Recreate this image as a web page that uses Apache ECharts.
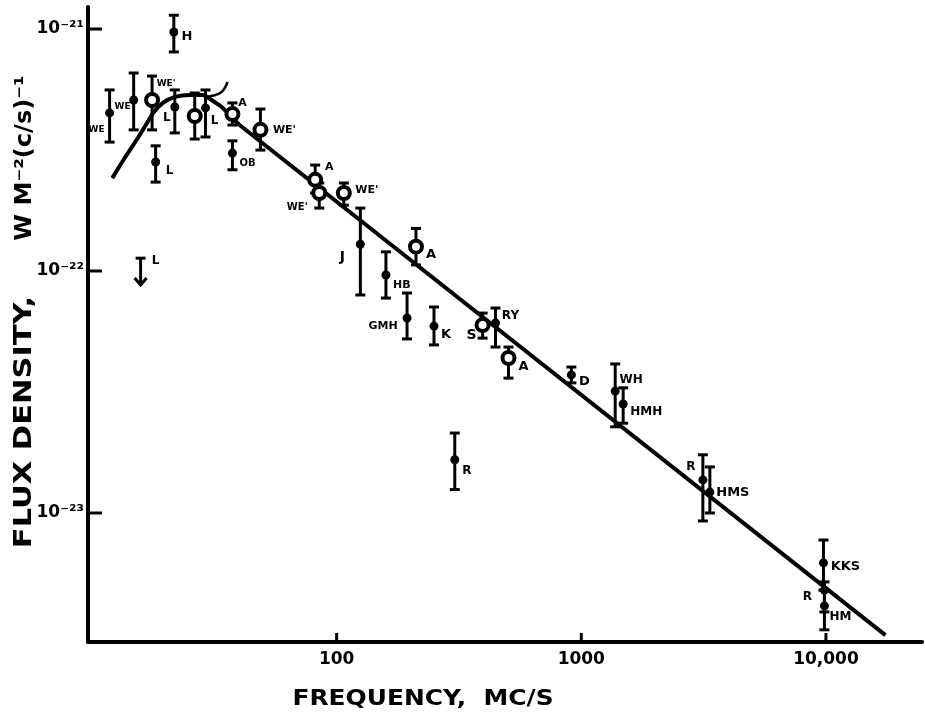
<!DOCTYPE html>
<html><head><meta charset="utf-8">
<script src="https://cdn.jsdelivr.net/npm/echarts@6/dist/echarts.min.js"></script>
<style>html,body{margin:0;padding:0;background:#fff}#c{width:925px;height:715px}</style>
</head><body><div id="c"></div>
<script>
// ---------- data (frequency in Mc/s, flux density in W m^-2 (c/s)^-1) ----------
const FLUX_UNIT = 1e-24;           // plotting unit for the flux axis
const xRange = [9.63, 24700];
const yRange = [2.93e-24, 1.233e-21];
const xTicks = [100, 1000, 10000];
const xTickLabels = ['100', '1000', '10,000'];
const yTicks = [1e-23, 1e-22, 1e-21];
const yTickLabels = ['10⁻²³', '10⁻²²', '10⁻²¹'];

// filled points with error bars
const filledNames = ['WE','WE','L','L','OB','L','H','J','HB','GMH','K','RY','R','D','WH','HMH','R','HMS','KKS','R','HM'];
const filledFreq  = [11.8, 14.8, 21.8, 29.1, 37.5, 18.2, 21.6, 125, 159, 194, 250, 446, 304, 911, 1376, 1483, 3140, 3354, 9770, 9860, 9860];
const filledFlux  = [4.50e-22, 5.09e-22, 4.76e-22, 4.72e-22, 3.07e-22, 2.82e-22, 9.72e-22, 1.29e-22, 9.63e-23, 6.39e-23, 5.92e-23, 6.10e-23, 1.66e-23, 3.72e-23, 3.19e-23, 2.82e-23, 1.37e-23, 1.22e-23, 6.22e-24, 4.80e-24, 4.13e-24];
const filledLow   = [3.41e-22, 3.83e-22, 3.72e-22, 3.58e-22, 2.62e-22, 2.33e-22, 8.04e-22, 7.96e-23, 7.73e-23, 5.24e-23, 4.95e-23, 4.85e-23, 1.25e-23, 3.45e-23, 2.27e-23, 2.35e-23, 9.27e-24, 1.00e-23, 4.80e-24, 3.90e-24, 3.29e-24];
const filledHigh  = [5.60e-22, 6.58e-22, 5.60e-22, 5.60e-22, 3.45e-22, 3.29e-22, 1.14e-21, 1.82e-22, 1.20e-22, 8.11e-23, 7.10e-23, 7.03e-23, 2.14e-23, 4.01e-23, 4.13e-23, 3.29e-23, 1.74e-23, 1.55e-23, 7.73e-24, 5.19e-24, 4.80e-24];

// open circles with error bars
const openNames = ["WE'", '', 'A', "WE'", 'A', "WE'", "WE'", 'A', 'S', 'A'];
const openFreq  = [17.6, 26.3, 37.5, 48.8, 81.7, 84.9, 107, 211, 395, 504];
const openFlux  = [5.09e-22, 4.37e-22, 4.45e-22, 3.83e-22, 2.38e-22, 2.10e-22, 2.10e-22, 1.26e-22, 5.98e-23, 4.37e-23];
const openLow   = [3.83e-22, 3.51e-22, 4.01e-22, 3.16e-22, 2.10e-22, 1.82e-22, 1.87e-22, 1.06e-22, 5.28e-23, 3.61e-23];
const openHigh  = [6.39e-22, 5.44e-22, 4.95e-22, 4.67e-22, 2.74e-22, 2.31e-22, 2.31e-22, 1.50e-22, 6.70e-23, 4.85e-23];

// upper limit
const limitNames = ['L'];
const limitFreq  = [15.8];
const limitTop   = [1.13e-22];
const limitTip   = [8.75e-23];

// spectrum curve: low-frequency turnover and straight power law
const curveFreq = [12.1, 13.6, 15.3, 16.6, 17.9, 19.5, 21.8, 25.1, 28.3, 30.8, 33.9, 36.8, 40.1];
const curveFlux = [2.42e-22, 2.93e-22, 3.51e-22, 4.01e-22, 4.54e-22, 4.95e-22, 5.24e-22, 5.34e-22, 5.34e-22, 5.09e-22, 4.76e-22, 4.37e-22, 4.01e-22];
const lineFreq  = [40.1, 17500];
const lineFlux  = [4.01e-22, 3.13e-24];
// leader from the "WE'" note to the curve
const hookFreq  = [29.4, 32.0, 33.85, 35.1, 35.8];
const hookFlux  = [5.24e-22, 5.34e-22, 5.49e-22, 5.76e-22, 6.04e-22];
const hookName  = "WE'";

// ---------- layout (label centre offsets in px, font size) ----------
const filledLabelLayout = [[-13,17,9],[-11,7,9],[-8,11,12],[9,13,12],[15,10,10],[14,9,12],[13,5,13],[-18,13,14],[16,10,11],[-24,8,11],[12,9,13],[15,-7,12],[12,11,12],[13,7,13],[16,-11,12],[23,8,12],[-12,-13,12],[23,1,13],[22,4,13],[-17,7,12],[16,11,12]];
const openLabelLayout = [[14,-16,9],[0,0,9],[10,-11,11],[24,0,11],[14,-13,11],[-22,14,10],[23,-3,11],[15,8,13],[-11,10,14],[15,9,13]];

const FONT = '"DejaVu Sans", sans-serif';
const u = v => v / FLUX_UNIT;
const near = (a, b) => Math.abs(Math.log10(a) - Math.log10(b)) < 0.01;

const pts = (fs, ss) => fs.map((f, i) => [f, u(ss[i])]);
const bars = filledFreq.map((f, i) => [f, u(filledLow[i]), u(filledHigh[i])])
  .concat(openFreq.map((f, i) => [f, u(openLow[i]), u(openHigh[i])]));

function labelled(fs, ss, names, lay) {
  return fs.map((f, i) => ({
    value: [f, u(ss[i])],
    label: {
      show: !!names[i], formatter: names[i], position: 'inside',
      offset: [lay[i][0], lay[i][1]], fontSize: lay[i][2],
      fontWeight: 'bold', fontFamily: FONT, color: '#000'
    }
  }));
}

const chart = echarts.init(document.getElementById('c'), null, {renderer: 'canvas'});
const blackLine = w => ({color: '#000', width: w, opacity: 1});

chart.setOption({
  animation: false,
  backgroundColor: '#fff',
  grid: {left: 88, right: 0, top: 7, bottom: 73},
  xAxis: {
    type: 'log', logBase: 10, min: xRange[0], max: xRange[1],
    axisLine: {lineStyle: blackLine(4)},
    axisTick: {show: false}, splitLine: {show: false},
    axisLabel: {
      color: '#000', fontSize: 17, fontWeight: 'bold', fontFamily: FONT, margin: 9,
      formatter: v => { const i = xTicks.findIndex(t => near(v, t)); return i >= 0 ? xTickLabels[i] : ''; }
    }
  },
  yAxis: {
    type: 'log', logBase: 10, min: u(yRange[0]), max: u(yRange[1]),
    axisLine: {lineStyle: blackLine(4)},
    axisTick: {show: false}, splitLine: {show: false},
    axisLabel: {
      color: '#000', fontSize: 17, fontWeight: 'bold', fontFamily: FONT, margin: 4,
      formatter: v => { const i = yTicks.findIndex(t => near(v, u(t))); return i >= 0 ? yTickLabels[i] : ''; }
    }
  },
  graphic: [
    {type: 'text', x: 25, y: 422, rotation: Math.PI / 2, scaleX: 1.27,
     style: {text: 'FLUX DENSITY,', font: 'bold 24px ' + FONT, fill: '#000', textAlign: 'center', textVerticalAlign: 'middle'}},
    {type: 'text', x: 25, y: 158, rotation: Math.PI / 2, scaleX: 1.05,
     style: {text: 'W M⁻²(c/s)⁻¹', font: 'bold 23px ' + FONT, fill: '#000', textAlign: 'center', textVerticalAlign: 'middle'}},
    {type: 'text', x: 423, y: 699, scaleX: 1.13,
     style: {text: 'FREQUENCY,  MC/S', font: 'bold 22px ' + FONT, fill: '#000', textAlign: 'center', textVerticalAlign: 'middle'}}
  ],
  series: [
    {type: 'line', data: pts(curveFreq, curveFlux), smooth: 0.3, showSymbol: false, lineStyle: blackLine(4), z: 2},
    {type: 'line', data: pts(lineFreq, lineFlux), showSymbol: false, lineStyle: blackLine(4), z: 2},
    {type: 'line', smooth: 0.4, showSymbol: false, lineStyle: blackLine(2.5), z: 2,
     data: pts(hookFreq, hookFlux).map((p, i, a) => i === a.length - 1 ? {value: p, label: {show: true, formatter: hookName, position: 'inside', offset: [7, -6], fontSize: 10, fontWeight: 'bold', fontFamily: FONT, color: '#000'}} : p)},
    {type: 'custom', data: bars, clip: false, z: 3, silent: true,
     renderItem: (params, api) => {
       const x = api.value(0);
       const a = api.coord([x, api.value(1)]), b = api.coord([x, api.value(2)]);
       const st = {stroke: '#000', lineWidth: 3};
       return {type: 'group', children: [
         {type: 'line', shape: {x1: a[0], y1: a[1], x2: b[0], y2: b[1]}, style: st},
         {type: 'line', shape: {x1: a[0] - 5, y1: a[1], x2: a[0] + 5, y2: a[1]}, style: st},
         {type: 'line', shape: {x1: b[0] - 5, y1: b[1], x2: b[0] + 5, y2: b[1]}, style: st}
       ]};
     }},
    {type: 'scatter', symbol: 'circle', symbolSize: 12, z: 4,
     itemStyle: {color: '#fff', borderColor: '#000', borderWidth: 4, opacity: 1},
     data: labelled(openFreq, openFlux, openNames, openLabelLayout)},
    {type: 'scatter', symbol: 'circle', symbolSize: 9, z: 5,
     itemStyle: {color: '#000', opacity: 1},
     data: labelled(filledFreq, filledFlux, filledNames, filledLabelLayout)},
    {type: 'custom', clip: false, z: 5, silent: true,
     data: limitFreq.map((f, i) => [f, u(limitTop[i]), u(limitTip[i])]),
     renderItem: (params, api) => {
       const x = api.value(0);
       const t = api.coord([x, api.value(1)]), b = api.coord([x, api.value(2)]);
       const st = {stroke: '#000', lineWidth: 3, fill: null};
       return {type: 'group', children: [
         {type: 'line', shape: {x1: t[0], y1: t[1], x2: b[0], y2: b[1]}, style: st},
         {type: 'line', shape: {x1: t[0] - 5, y1: t[1], x2: t[0] + 5, y2: t[1]}, style: st},
         {type: 'polyline', shape: {points: [[b[0] - 6, b[1] - 7], [b[0], b[1]], [b[0] + 6, b[1] - 7]]}, style: st},
         {type: 'text', x: t[0] + 15, y: t[1] + 3, style: {text: limitNames[params.dataIndex], font: 'bold 12px ' + FONT, fill: '#000', textAlign: 'center', textVerticalAlign: 'middle'}}
       ]};
     }},
    {type: 'custom', clip: false, z: 6, silent: true,
     data: xTicks.map(v => [v, u(yRange[0])]),
     renderItem: (params, api) => {
       const p = api.coord([api.value(0), api.value(1)]);
       return {type: 'line', shape: {x1: p[0], y1: p[1], x2: p[0], y2: p[1] - 9}, style: {stroke: '#000', lineWidth: 3}};
     }},
    {type: 'custom', clip: false, z: 6, silent: true,
     data: yTicks.map(v => [xRange[0], u(v)]),
     renderItem: (params, api) => {
       const p = api.coord([api.value(0), api.value(1)]);
       return {type: 'line', shape: {x1: p[0], y1: p[1], x2: p[0] + 14, y2: p[1]}, style: {stroke: '#000', lineWidth: 3}};
     }}
  ]
});
</script></body></html>
